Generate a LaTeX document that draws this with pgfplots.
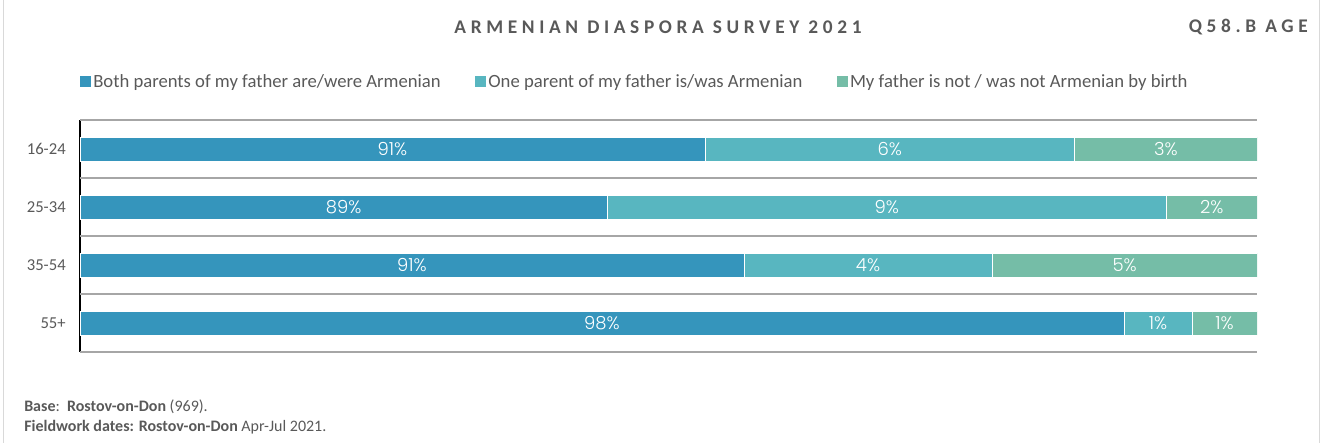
\documentclass[border=0pt]{standalone}
\usepackage{pgfplots}
\usepackage{pgfplotstable}
\pgfplotsset{compat=1.18}
\usepackage{fontspec}
\setmainfont{Carlito}
\newfontfamily\lblfont{Poppins Light}
\newfontfamily\titlefont{Carlito}[LetterSpace=24]
\definecolor{cA}{HTML}{3595BC}
\definecolor{cB}{HTML}{58B6C0}
\definecolor{cC}{HTML}{75BDA7}
\definecolor{txt}{HTML}{595959}
\definecolor{gridc}{HTML}{A6A6A6}
\definecolor{framec}{HTML}{D9D9D9}

\pgfplotstableread{
y a b c
0 53.1 31.4 15.5
1 44.8 47.5 7.7
2 56.4 21.1 22.5
3 88.7 5.8 5.5
}\bars

\pgfplotstableread{
x y lab
26.55 0 91
68.8 0 6
92.25 0 3
22.4 1 89
68.55 1 9
96.15 1 2
28.2 2 91
66.95 2 4
88.75 2 5
44.35 3 98
91.6 3 1
97.25 3 1
}\labels

\begin{document}
\begin{tikzpicture}
\path[use as bounding box] (0,0) rectangle (992.25pt,-332.25pt);
\draw[framec, line width=0.75pt] (2.25pt,0) -- (2.25pt,-332.25pt);
\draw[framec, line width=0.75pt] (989.25pt,0) -- (989.25pt,-332.25pt);

\begin{axis}[
  at={(60pt,-90pt)}, anchor=north west,
  scale only axis, width=882.75pt, height=174pt,
  xmin=0, xmax=100, ymin=-0.5, ymax=3.5,
  y dir=reverse,
  xbar stacked, bar width=18pt,
  axis x line=none, axis y line*=left,
  y axis line style={-, black, line width=1.1pt},
  ytick={0,1,2,3}, yticklabels={16-24,25-34,35-54,55+},
  major tick length=0pt,
  yticklabel style={anchor=east, inner sep=0pt, xshift=-10.5pt, font=\fontsize{12.5}{14}\selectfont, text=txt},
  extra y ticks={-0.5,0.5,1.5,2.5,3.5},
  extra y tick labels={},
  extra y tick style={grid=major, major grid style={gridc, line width=1pt}},
  legend columns=3,
  legend style={at={(0,1.164)}, anchor=west, draw=none, fill=none, inner sep=0pt,
    font=\fontsize{14}{16}\selectfont, text=txt,
    /tikz/every even column/.append style={column sep=24.5pt},
    nodes={inner xsep=1.5pt, inner ysep=1pt}},
  legend image code/.code={\fill[#1, draw=none] (0pt,-4.1pt) rectangle (8.25pt,4.1pt);},
]
\addplot[fill=cA, draw=white, line width=0.5pt] table[x=a, y=y] {\bars};
\addlegendentry{Both parents of my father are/were Armenian}
\addplot[fill=cB, draw=white, line width=0.5pt] table[x=b, y=y] {\bars};
\addlegendentry{One parent of my father is/was Armenian}
\addplot[fill=cC, draw=white, line width=0.5pt] table[x=c, y=y] {\bars};
\addlegendentry{My father is not / was not Armenian by birth}
\end{axis}

\begin{axis}[
  at={(60pt,-90pt)}, anchor=north west,
  scale only axis, width=882.75pt, height=174pt,
  xmin=0, xmax=100, ymin=-0.5, ymax=3.5,
  y dir=reverse, hide axis,
]
\addplot[draw=none, mark=none, point meta=explicit symbolic,
  nodes near coords={\pgfplotspointmeta\%},
  nodes near coords style={anchor=center, text=white, inner sep=0pt, font=\lblfont\fontsize{13.5}{14}\selectfont}]
  table[x=x, y=y, meta=lab] {\labels};
\end{axis}

\node[anchor=center, font=\titlefont\bfseries\fontsize{14.5}{16}\selectfont, text=txt, inner sep=0pt] at (493.5pt,-20.25pt) {ARMENIAN DIASPORA SURVEY 2021};
\node[anchor=east, font=\titlefont\bfseries\fontsize{14.5}{16}\selectfont, text=txt, inner sep=0pt] at (981pt,-20.25pt) {Q58.B AGE};
\node[anchor=base west, font=\fontsize{12}{14}\selectfont, text=txt, inner sep=0pt] at (18pt,-308.25pt) {\textbf{Base}:\ \ \textbf{Rostov-on-Don} (969).};
\node[anchor=base west, font=\fontsize{12}{14}\selectfont, text=txt, inner sep=0pt] at (18pt,-323.25pt) {\textbf{Fieldwork dates: Rostov-on-Don} Apr-Jul 2021.};
\end{tikzpicture}
\end{document}
